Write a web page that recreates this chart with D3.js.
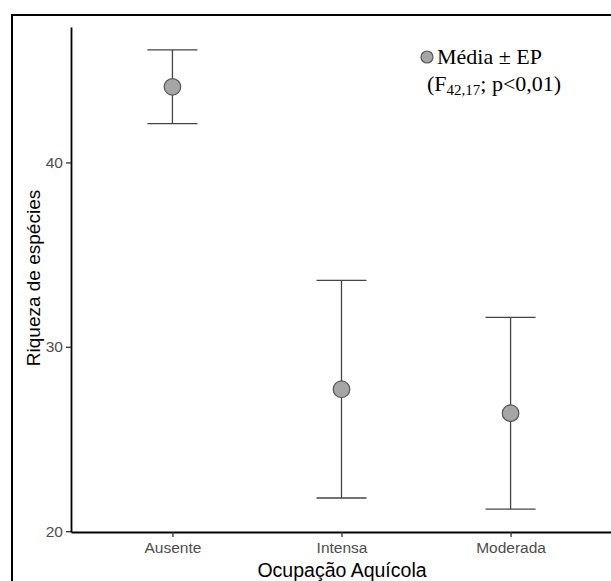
<!DOCTYPE html>
<html>
<head>
<meta charset="utf-8">
<script src="https://cdn.jsdelivr.net/npm/d3@7"></script>
<style>
  html, body { margin: 0; padding: 0; background: #fff; overflow: hidden; }
  svg { display: block; }
</style>
</head>
<body>
<svg></svg>
<script>
// data
var categories = ["Ausente", "Intensa", "Moderada"];
var means = [44.1, 27.7, 26.4];
var upper = [46.1, 33.6, 31.6];
var lower = [42.1, 21.8, 21.2];
var yTicks = [20, 30, 40];

var screen = { width: 611, height: 581 };
var margins = { top: 27, bottom: 49, left: 71, right: -1 };

var svg = d3.select('svg')
            .attr('width', screen.width)
            .attr('height', screen.height);

// outer frame: left edge and top edge only
svg.append('line')
   .attr('x1', 12).attr('x2', 12)
   .attr('y1', 14).attr('y2', screen.height)
   .attr('stroke', '#000').attr('stroke-width', 2);
svg.append('line')
   .attr('x1', 11).attr('x2', screen.width)
   .attr('y1', 15).attr('y2', 15)
   .attr('stroke', '#000').attr('stroke-width', 2);

var data = categories.map(function(c, i) {
  return { cat: c, mean: means[i], hi: upper[i], lo: lower[i] };
});

// ggplot style 5% expansion
var lo = d3.min(lower), hi = d3.max(upper);
var pad = (hi - lo) * 0.05;

var xScale = d3.scalePoint()
               .domain(categories)
               .range([margins.left, screen.width - margins.right])
               .padding(0.6);
var yScale = d3.scaleLinear()
               .domain([lo - pad, hi + pad])
               .range([screen.height - margins.bottom, margins.top]);

var yAxis = d3.axisLeft(yScale).tickValues(yTicks).tickSize(5).tickSizeOuter(0).tickPadding(3);
var xAxis = d3.axisBottom(xScale).tickSize(5).tickSizeOuter(0).tickPadding(5);

var gy = svg.append('g')
   .attr('transform', 'translate(' + margins.left + ',0)')
   .call(yAxis);
var gx = svg.append('g')
   .attr('transform', 'translate(0,' + (screen.height - margins.bottom) + ')')
   .call(xAxis);

[gx, gy].forEach(function(g) {
  g.select('.domain').attr('stroke', '#000').attr('stroke-width', 1.8);
  g.selectAll('.tick line').attr('stroke', '#333').attr('stroke-width', 1.3);
  g.selectAll('.tick text')
   .attr('fill', '#4d4d4d')
   .style('font-family', 'Liberation Sans, Arial, sans-serif')
   .style('font-size', '15.5px');
});

// error bars
var bars = svg.append('g');
bars.selectAll('line.v')
    .data(data).enter().append('line')
    .attr('x1', function(d) { return xScale(d.cat); })
    .attr('x2', function(d) { return xScale(d.cat); })
    .attr('y1', function(d) { return yScale(d.lo); })
    .attr('y2', function(d) { return yScale(d.hi); })
    .attr('stroke', '#444').attr('stroke-width', 1.3);
bars.selectAll('line.top')
    .data(data).enter().append('line')
    .attr('x1', function(d) { return xScale(d.cat) - 25; })
    .attr('x2', function(d) { return xScale(d.cat) + 25; })
    .attr('y1', function(d) { return yScale(d.hi); })
    .attr('y2', function(d) { return yScale(d.hi); })
    .attr('stroke', '#444').attr('stroke-width', 1.3);
bars.selectAll('line.bot')
    .data(data).enter().append('line')
    .attr('x1', function(d) { return xScale(d.cat) - 25; })
    .attr('x2', function(d) { return xScale(d.cat) + 25; })
    .attr('y1', function(d) { return yScale(d.lo); })
    .attr('y2', function(d) { return yScale(d.lo); })
    .attr('stroke', '#444').attr('stroke-width', 1.3);

bars.selectAll('circle')
    .data(data).enter().append('circle')
    .attr('cx', function(d) { return xScale(d.cat); })
    .attr('cy', function(d) { return yScale(d.mean); })
    .attr('r', 8.3)
    .attr('fill', '#a6a6a6')
    .attr('stroke', '#555')
    .attr('stroke-width', 1.2);

// axis titles
svg.append('text')
   .attr('x', 342).attr('y', 577)
   .attr('text-anchor', 'middle')
   .style('font-family', 'Liberation Sans, Arial, sans-serif')
   .style('font-size', '19.5px')
   .text('Ocupação Aquícola');
svg.append('text')
   .attr('transform', 'translate(40,278) rotate(-90)')
   .attr('text-anchor', 'middle')
   .style('font-family', 'Liberation Sans, Arial, sans-serif')
   .style('font-size', '19px')
   .text('Riqueza de espécies');

// legend note
svg.append('circle')
   .attr('cx', 427).attr('cy', 57).attr('r', 6)
   .attr('fill', '#a6a6a6').attr('stroke', '#555').attr('stroke-width', 1.2);
svg.append('text')
   .attr('x', 437).attr('y', 64)
   .style('font-family', 'Liberation Serif, Times New Roman, serif')
   .style('font-size', '22px')
   .text('Média ± EP');
var t2 = svg.append('text')
   .attr('x', 427).attr('y', 91)
   .style('font-family', 'Liberation Serif, Times New Roman, serif')
   .style('font-size', '22px');
t2.append('tspan').text('(F');
t2.append('tspan').attr('dy', 4).style('font-size', '15px').text('42,17');
t2.append('tspan').attr('dy', -4).text('; p<0,01)');
</script>
</body>
</html>
